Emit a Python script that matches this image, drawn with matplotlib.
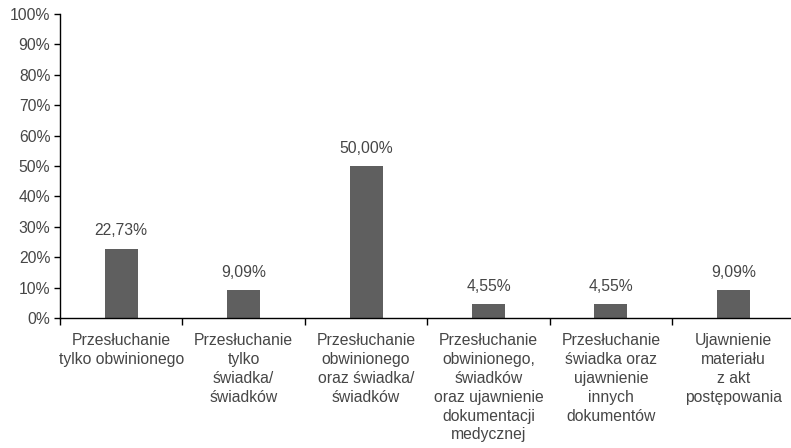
import matplotlib
matplotlib.use("Agg")
import matplotlib.pyplot as plt
import numpy as np

categories = [
    "Przesłuchanie\ntylko obwinionego",
    "Przesłuchanie\ntylko\nświadka/\nświadków",
    "Przesłuchanie\nobwinionego\noraz świadka/\nświadków",
    "Przesłuchanie\nobwinionego,\nświadków\noraz ujawnienie\ndokumentacji\nmedycznej",
    "Przesłuchanie\nświadka oraz\nujawnienie\ninnych\ndokumentów",
    "Ujawnienie\nmateriału\nz akt\npostępowania",
]
values = [22.73, 9.09, 50.00, 4.55, 4.55, 9.09]
yticks = [0, 10, 20, 30, 40, 50, 60, 70, 80, 90, 100]

plt.rcParams['font.family'] = ['Liberation Sans', 'DejaVu Sans']
txt = '#464646'
fs = 11.3

fig = plt.figure(figsize=(7.91, 4.48), dpi=100)
ax = fig.add_axes([60/791, 130/448, 734.6/791, 304/448])

x = np.arange(len(categories))
ax.bar(x, values, width=0.27, color='#5f5f5f', zorder=2)
for xi, v in zip(x, values):
    ax.annotate(f"{v:.2f}%".replace('.', ','), (xi, v), xytext=(0, 7.5),
                textcoords='offset points', ha='center', va='bottom',
                fontsize=fs, color=txt)

ax.set_xlim(-0.5, len(categories) - 0.5)
ax.set_ylim(0, 100)
ax.set_yticks(yticks)
ax.set_yticklabels([f"{t}%" for t in yticks], fontsize=fs, color=txt)
ax.set_xticks(np.arange(len(categories) + 1) - 0.5)
ax.set_xticklabels([])
ax.set_xticks(x, minor=True)
ax.set_xticklabels(categories, minor=True, fontsize=fs, color=txt,
                   linespacing=1.32)
ax.tick_params(axis='x', which='minor', length=0, pad=11)
ax.tick_params(axis='x', which='major', length=5, width=1, direction='out')
ax.tick_params(axis='y', length=4, width=1, direction='out', pad=3)
for s in ['top', 'right']:
    ax.spines[s].set_visible(False)
for s in ['left', 'bottom']:
    ax.spines[s].set_color('black')
    ax.spines[s].set_linewidth(1)

fig.savefig('out.png', dpi=100)
